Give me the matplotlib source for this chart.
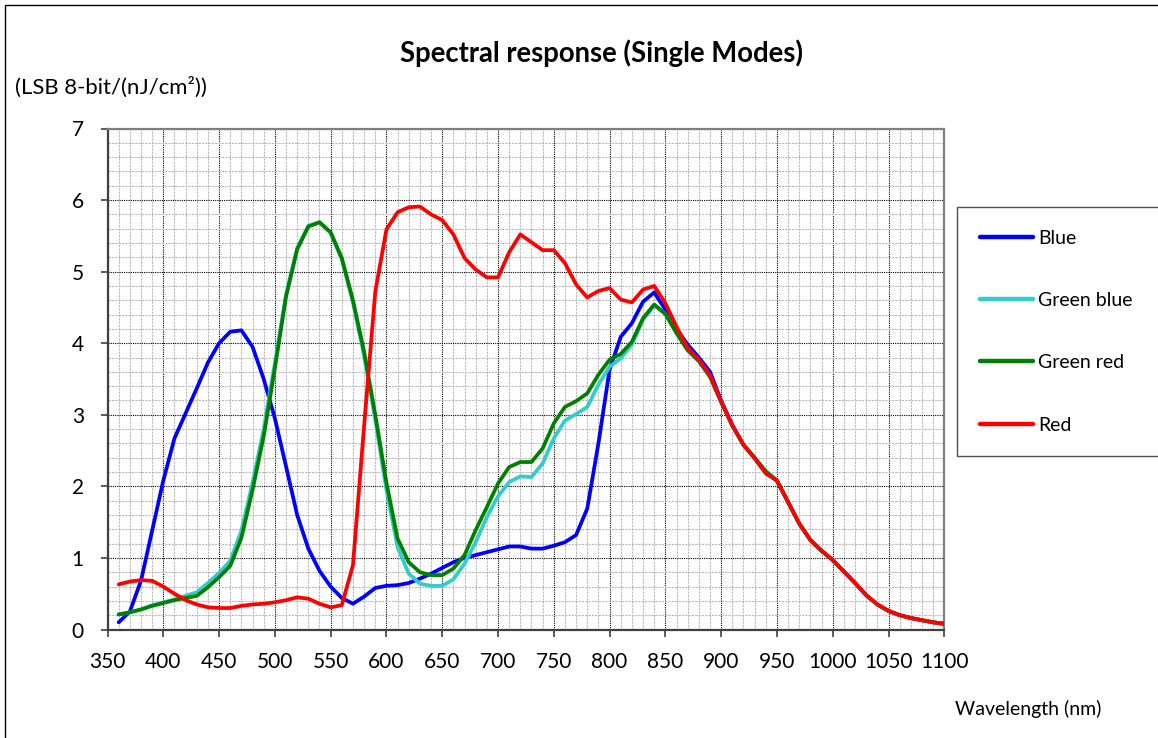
import matplotlib
matplotlib.use("Agg")
import matplotlib.pyplot as plt
from matplotlib.patches import Rectangle
from matplotlib.ticker import MultipleLocator

plt.rcParams['font.family'] = ['Lato', 'DejaVu Sans']

wavelength = [360, 370, 380, 390, 400, 410, 420, 430, 440, 450, 460, 470, 480, 490, 500,
              510, 520, 530, 540, 550, 560, 570, 580, 590, 600, 610, 620, 630, 640, 650,
              660, 670, 680, 690, 700, 710, 720, 730, 740, 750, 760, 770, 780, 790, 800,
              810, 820, 830, 840, 850, 860, 870, 880, 890, 900, 910, 920, 930, 940, 950,
              960, 970, 980, 990, 1000, 1010, 1020, 1030, 1040, 1050, 1060, 1070, 1080, 1090, 1100]

blue = [0.10, 0.25, 0.68, 1.38, 2.08, 2.67, 3.02, 3.37, 3.73, 4.00, 4.16, 4.18, 3.95, 3.50, 2.95,
        2.28, 1.60, 1.13, 0.82, 0.60, 0.44, 0.36, 0.46, 0.58, 0.61, 0.62, 0.65, 0.71, 0.78, 0.86,
        0.94, 1.00, 1.04, 1.08, 1.12, 1.16, 1.16, 1.13, 1.13, 1.17, 1.22, 1.32, 1.69, 2.60, 3.63,
        4.09, 4.28, 4.58, 4.71, 4.47, 4.20, 3.98, 3.80, 3.60, 3.20, 2.86, 2.58, 2.40, 2.20, 2.08,
        1.78, 1.48, 1.25, 1.10, 0.97, 0.81, 0.65, 0.48, 0.35, 0.26, 0.20, 0.16, 0.13, 0.10, 0.08]

green_blue = [0.21, 0.24, 0.28, 0.34, 0.38, 0.42, 0.47, 0.52, 0.65, 0.79, 0.96, 1.38, 2.05, 2.80, 3.72,
              4.68, 5.33, 5.64, 5.69, 5.54, 5.17, 4.57, 3.82, 2.93, 1.95, 1.15, 0.78, 0.64, 0.61, 0.61,
              0.70, 0.92, 1.22, 1.57, 1.86, 2.06, 2.14, 2.13, 2.32, 2.67, 2.92, 3.01, 3.11, 3.42, 3.67,
              3.79, 3.98, 4.33, 4.53, 4.41, 4.15, 3.91, 3.76, 3.54, 3.18, 2.85, 2.58, 2.40, 2.21, 2.08,
              1.78, 1.48, 1.25, 1.10, 0.97, 0.81, 0.65, 0.48, 0.35, 0.26, 0.20, 0.16, 0.13, 0.10, 0.08]

green_red = [0.21, 0.24, 0.28, 0.33, 0.37, 0.41, 0.44, 0.47, 0.59, 0.73, 0.89, 1.28, 1.95, 2.70, 3.65,
             4.65, 5.31, 5.63, 5.69, 5.55, 5.19, 4.60, 3.88, 3.00, 2.05, 1.27, 0.94, 0.80, 0.76, 0.76,
             0.85, 1.04, 1.39, 1.71, 2.04, 2.27, 2.34, 2.34, 2.53, 2.88, 3.11, 3.19, 3.30, 3.56, 3.77,
             3.85, 4.02, 4.35, 4.54, 4.41, 4.14, 3.90, 3.75, 3.53, 3.18, 2.85, 2.58, 2.40, 2.21, 2.08,
             1.78, 1.48, 1.25, 1.10, 0.97, 0.81, 0.65, 0.48, 0.35, 0.26, 0.20, 0.16, 0.13, 0.10, 0.08]

red = [0.63, 0.67, 0.69, 0.68, 0.60, 0.50, 0.41, 0.35, 0.31, 0.30, 0.30, 0.33, 0.35, 0.36, 0.38,
       0.41, 0.45, 0.43, 0.36, 0.31, 0.34, 0.90, 2.85, 4.72, 5.59, 5.83, 5.90, 5.91, 5.80, 5.72,
       5.52, 5.19, 5.03, 4.92, 4.92, 5.27, 5.52, 5.41, 5.30, 5.30, 5.12, 4.82, 4.64, 4.73, 4.77,
       4.61, 4.57, 4.75, 4.80, 4.56, 4.23, 3.93, 3.77, 3.55, 3.18, 2.85, 2.58, 2.39, 2.18, 2.08,
       1.78, 1.48, 1.25, 1.10, 0.97, 0.81, 0.65, 0.48, 0.35, 0.26, 0.20, 0.16, 0.13, 0.10, 0.08]

series_names = ["Blue", "Green blue", "Green red", "Red"]
series_colors = ["#0000FF", "#33CCCC", "#008000", "#FF0000"]

x_ticks = [350, 400, 450, 500, 550, 600, 650, 700, 750, 800, 850, 900, 950, 1000, 1050, 1100]
y_ticks = [0, 1, 2, 3, 4, 5, 6, 7]

title = "Spectral response (Single Modes)"
y_label = "(LSB 8-bit/(nJ/cm²))"
x_label = "Wavelength (nm)"

W, H = 1158, 738
fig = plt.figure(figsize=(W / 100, H / 100), dpi=100)
fig.patch.set_facecolor("white")

# axes placement in pixels
ax_l, ax_r, ax_t, ax_b = 107.5, 944.3, 128.5, 629.5
ax = fig.add_axes([ax_l / W, 1 - ax_b / H, (ax_r - ax_l) / W, (ax_b - ax_t) / H])

for name, vals, col in zip(series_names, [blue, green_blue, green_red, red], series_colors):
    ax.plot(wavelength, vals, color=col, lw=2.7, label=name, solid_joinstyle='round',
            solid_capstyle='round', zorder=3)

ax.set_xlim(350, 1100)
ax.set_ylim(0, 7)
ax.set_xticks(x_ticks)
ax.set_yticks(y_ticks)
ax.xaxis.set_minor_locator(MultipleLocator(10))
ax.yaxis.set_minor_locator(MultipleLocator(0.2))

ax.grid(which='major', color='#000000', linestyle=(0, (1, 1)), linewidth=0.8, zorder=1)
ax.grid(which='minor', color='#b8b8b8', linestyle=(0, (2, 1)), linewidth=0.8, zorder=0)
ax.set_axisbelow(True)

for s in ax.spines.values():
    s.set_color('#808080')
    s.set_linewidth(1.6)
ax.spines['left'].set_color('#404040')
ax.spines['bottom'].set_color('#404040')

ax.tick_params(axis='both', which='major', direction='out', length=5, width=1.2,
               color='#404040', labelsize=15, labelcolor='black')
ax.tick_params(axis='x', which='major', pad=11)
ax.tick_params(axis='y', which='major', pad=12)
ax.tick_params(which='minor', length=0)

fig.text(602 / W, 1 - 53 / H, title, ha='center', va='center', fontsize=19.8, fontweight='bold')
fig.text(15 / W, 1 - 87 / H, y_label, ha='left', va='center', fontsize=15.9)
fig.text(1028 / W, 1 - 709 / H, x_label, ha='center', va='center', fontsize=14)

# outer border of the chart area
fig.patches.append(Rectangle((5 / W, -0.05), 1.2, 1 - 5 / H + 0.05, transform=fig.transFigure,
                             fill=False, edgecolor='black', linewidth=1.0))

leg_l, leg_t, leg_b, leg_r = 957.3, 207.3, 454.3, 1161
leg = fig.legend(loc='upper left', bbox_to_anchor=(leg_l / W, 1 - leg_b / H, (leg_r - leg_l) / W, (leg_b - leg_t) / H),
                 bbox_transform=fig.transFigure, mode='expand', borderaxespad=0,
                 fontsize=14, frameon=True, fancybox=False, edgecolor='#222222',
                 handlelength=2.74, handletextpad=0.27, labelspacing=2.33, borderpad=1.15)
leg.get_frame().set_linewidth(1.0)
for h in leg.legend_handles:
    h.set_linewidth(3.2)

fig.savefig("out.png", dpi=100, facecolor='white')
